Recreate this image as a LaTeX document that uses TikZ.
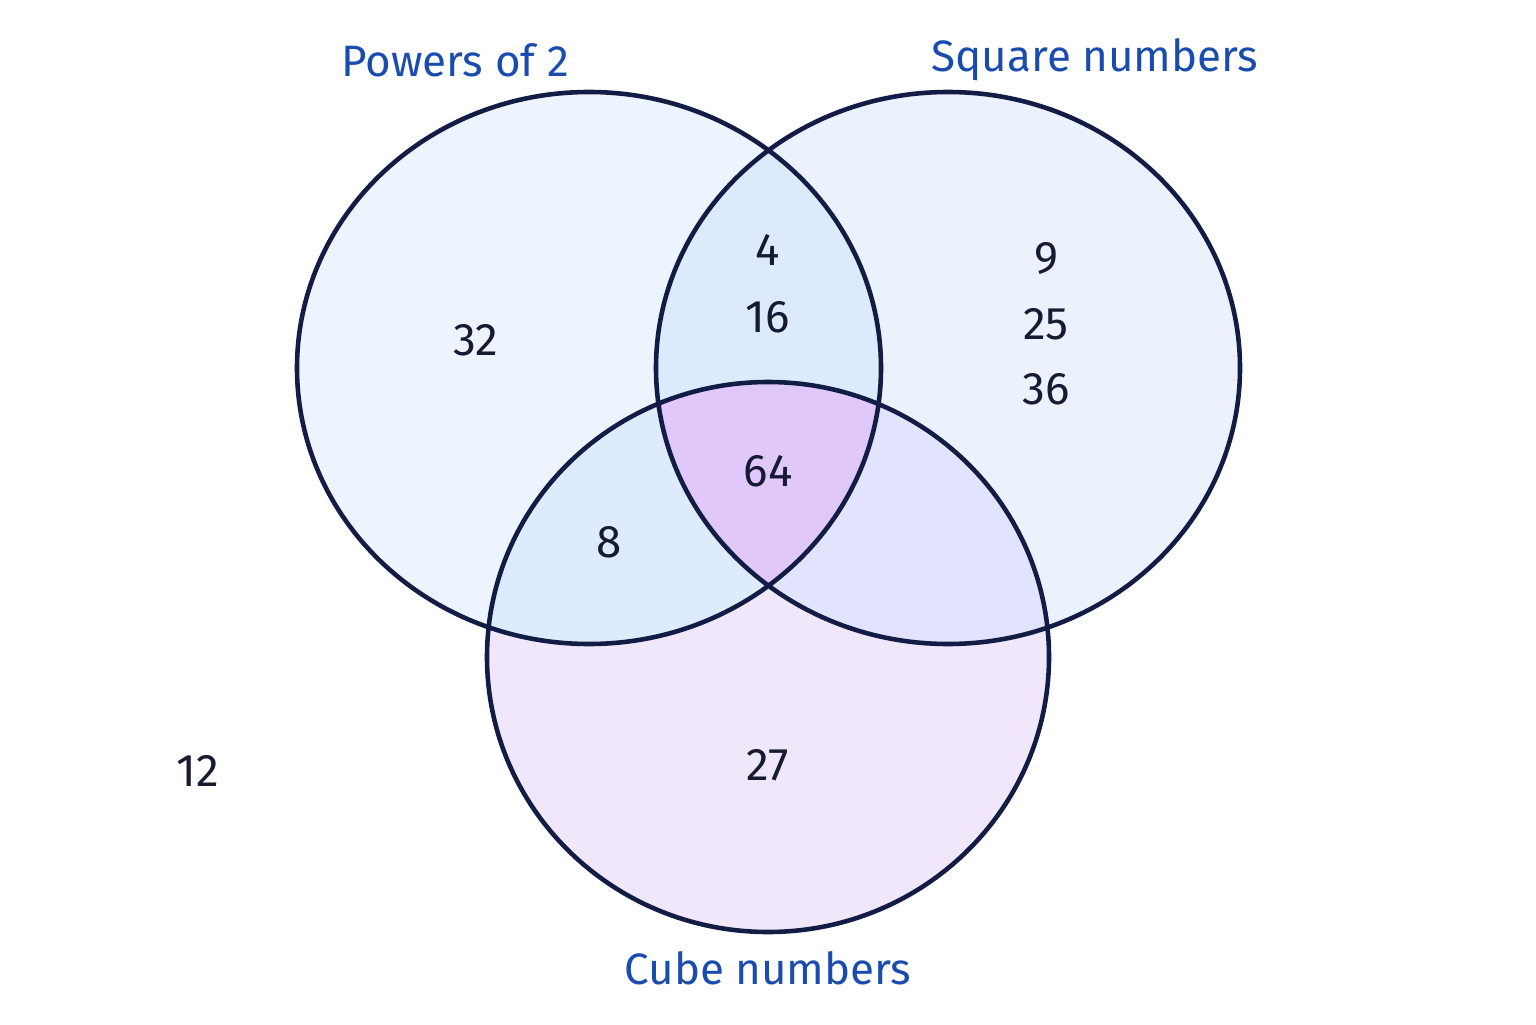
\documentclass[tikz,border=0pt]{standalone}
\usepackage{fontspec}
\setmainfont{Fira Sans}
\usetikzlibrary{positioning}
\definecolor{setblue}{HTML}{1A4CB0}
\definecolor{numink}{HTML}{161A33}
\definecolor{rimink}{HTML}{121C45}
\definecolor{onlyP}{HTML}{EEF4FE}
\definecolor{onlyS}{HTML}{EBF2FE}
\definecolor{onlyC}{HTML}{F0E8FA}
\definecolor{capPS}{HTML}{DCEAFC}
\definecolor{capPC}{HTML}{DDEBFC}
\definecolor{capSC}{HTML}{E1E4FC}
\definecolor{capPSC}{HTML}{E0C8FB}
\newcommand{\setP}{(5.89,6.56) ellipse [x radius=2.92cm, y radius=2.76cm]}
\newcommand{\setS}{(9.48,6.56) ellipse [x radius=2.92cm, y radius=2.76cm]}
\newcommand{\setC}{(7.68,3.67) ellipse [x radius=2.81cm, y radius=2.75cm]}
\tikzset{
  setlabel/.style={text=setblue, font=\fontsize{12.5}{14}\selectfont},
  member/.style={text=numink, font=\fontsize{13}{15}\selectfont}
}
\begin{document}
\begin{tikzpicture}
   \fill[white] (0,0) rectangle (15.36,10.24);

   % single sets
   \fill[onlyP] \setP;
   \fill[onlyS] \setS;
   \fill[onlyC] \setC;

   % pairwise overlaps
   \begin{scope}
     \clip \setP;
     \fill[capPS] \setS;
     \fill[capPC] \setC;
   \end{scope}
   \begin{scope}
     \clip \setS;
     \fill[capSC] \setC;
   \end{scope}

   % all three
   \begin{scope}
     \clip \setP;
     \clip \setS;
     \fill[capPSC] \setC;
   \end{scope}

   \draw[rimink, line width=1.3pt] \setP \setS \setC;

   \node[setlabel] (powers) at (4.55,9.64) {Powers of 2};
   \node[setlabel] (squares) at (10.95,9.64) {Square numbers};
   \node[setlabel] (cubes) at (7.68,0.56) {Cube numbers};

   \node[member] (n32) at (4.76,6.84) {32};
   \node[member] (n4) at (7.68,7.74) {4};
   \node[member] (n16) at (7.68,7.07) {16};
   \node[member] (n9) at (10.46,7.66) {9};
   \node[member] (n25) at (10.46,7.00) {25};
   \node[member] (n36) at (10.46,6.35) {36};
   \node[member] (n64) at (7.68,5.53) {64};
   \node[member] (n8) at (6.09,4.82) {8};
   \node[member] (n27) at (7.68,2.59) {27};
   \node[member] (n12) at (1.98,2.53) {12};
\end{tikzpicture}
\end{document}
